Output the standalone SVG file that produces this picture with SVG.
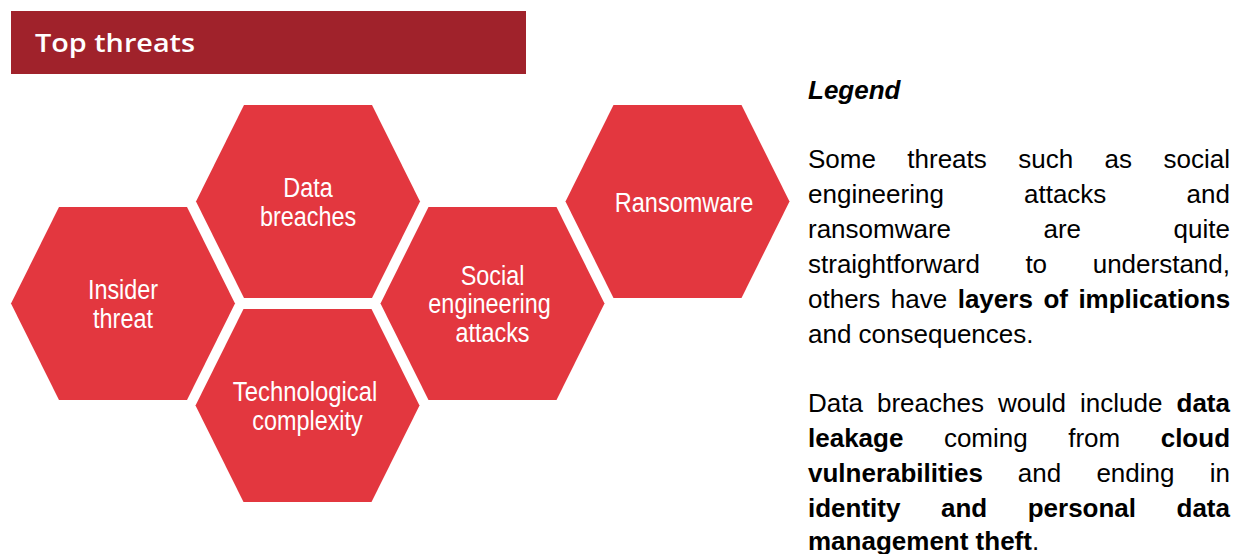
<svg xmlns="http://www.w3.org/2000/svg" xmlns:xlink="http://www.w3.org/1999/xlink" width="1233" height="554" viewBox="0 0 1233 554">
  <style>
    .hex { fill: #E3373F; }
    .hexlabel { font-family: "Liberation Sans", Arial, sans-serif; font-size: 27px; fill: #FFFFFF; text-anchor: middle; }
    .title { font-family: "Open Sans", "Liberation Sans", sans-serif; font-size: 26px; font-weight: 600; fill: #FFFFFF; }
    .legend { font-family: "Liberation Sans", Arial, sans-serif; font-size: 26px; fill: #000000; }
    .b { font-weight: bold; }
  </style>
  <defs>
    <polygon id="hexshape" points="-112,0 -64,-96.5 64,-96.5 112,0 64,96.5 -64,96.5"/>
  </defs>
  <rect width="1233" height="554" fill="#FFFFFF"/>

  <g id="banner">
    <rect x="11" y="11" width="515" height="63" fill="#A0222B"/>
    <text class="title" x="35" y="52" textLength="160" lengthAdjust="spacingAndGlyphs">Top threats</text>
  </g>

  <g id="connectors"/>

  <g id="node-data-breaches" transform="translate(308,201.5)">
    <use xlink:href="#hexshape" class="hex"/>
    <text class="hexlabel" x="0" y="-4.5" textLength="49.4" lengthAdjust="spacingAndGlyphs">Data</text>
    <text class="hexlabel" x="0" y="24" textLength="96.2" lengthAdjust="spacingAndGlyphs">breaches</text>
  </g>

  <g id="node-ransomware" transform="translate(677.5,201.5)">
    <use xlink:href="#hexshape" class="hex"/>
    <text class="hexlabel" x="6.5" y="10" textLength="138.5" lengthAdjust="spacingAndGlyphs">Ransomware</text>
  </g>

  <g id="node-insider-threat" transform="translate(123,303.5)">
    <use xlink:href="#hexshape" class="hex"/>
    <text class="hexlabel" x="0" y="-4.5" textLength="70.2" lengthAdjust="spacingAndGlyphs">Insider</text>
    <text class="hexlabel" x="0" y="24" textLength="59.8" lengthAdjust="spacingAndGlyphs">threat</text>
  </g>

  <g id="node-social-engineering" transform="translate(492.5,303.5)">
    <use xlink:href="#hexshape" class="hex"/>
    <text class="hexlabel" x="0" y="-18.75" textLength="63.7" lengthAdjust="spacingAndGlyphs">Social</text>
    <text class="hexlabel" x="-3" y="9.75" textLength="122.3" lengthAdjust="spacingAndGlyphs">engineering</text>
    <text class="hexlabel" x="0" y="38.25" textLength="74.1" lengthAdjust="spacingAndGlyphs">attacks</text>
  </g>

  <g id="node-technological-complexity" transform="translate(307.5,405.5)">
    <use xlink:href="#hexshape" class="hex"/>
    <text class="hexlabel" x="-2.5" y="-4.5" textLength="144.4" lengthAdjust="spacingAndGlyphs">Technological</text>
    <text class="hexlabel" x="0" y="24" textLength="110.5" lengthAdjust="spacingAndGlyphs">complexity</text>
  </g>

  <g id="legend" class="legend">
    <text x="808" y="99" font-weight="bold" font-style="italic">Legend</text>

    <text y="168"><tspan x="808">Some</tspan><tspan x="907.3">threats</tspan><tspan x="1018.2">such</tspan><tspan x="1104.5">as</tspan><tspan x="1163.5">social</tspan></text>
    <text y="203"><tspan x="808">engineering</tspan><tspan x="1024">attacks</tspan><tspan x="1186.6">and</tspan></text>
    <text y="238"><tspan x="808">ransomware</tspan><tspan x="1043.5">are</tspan><tspan x="1173.6">quite</tspan></text>
    <text y="273"><tspan x="808">straightforward</tspan><tspan x="1025.4">to</tspan><tspan x="1092.7">understand,</tspan></text>
    <text y="308"><tspan x="808">others</tspan><tspan x="890.8">have</tspan><tspan x="957.7" class="b">layers</tspan><tspan x="1043.4" class="b">of</tspan><tspan x="1078.4" class="b">implications</tspan></text>
    <text y="343" x="808">and consequences.</text>

    <text y="412"><tspan x="808">Data</tspan><tspan x="877">breaches</tspan><tspan x="998">would</tspan><tspan x="1080">include</tspan><tspan x="1176.5" class="b">data</tspan></text>
    <text y="447"><tspan x="808" class="b">leakage</tspan><tspan x="943.9">coming</tspan><tspan x="1068.2">from</tspan><tspan x="1160.7" class="b">cloud</tspan></text>
    <text y="482"><tspan x="808" class="b">vulnerabilities</tspan><tspan x="1017.8">and</tspan><tspan x="1096.4">ending</tspan><tspan x="1209.8">in</tspan></text>
    <text y="517"><tspan x="808" class="b">identity</tspan><tspan x="941" class="b">and</tspan><tspan x="1027.7" class="b">personal</tspan><tspan x="1176.5" class="b">data</tspan></text>
    <text y="550" x="808"><tspan class="b">management theft</tspan>.</text>
  </g>
</svg>
